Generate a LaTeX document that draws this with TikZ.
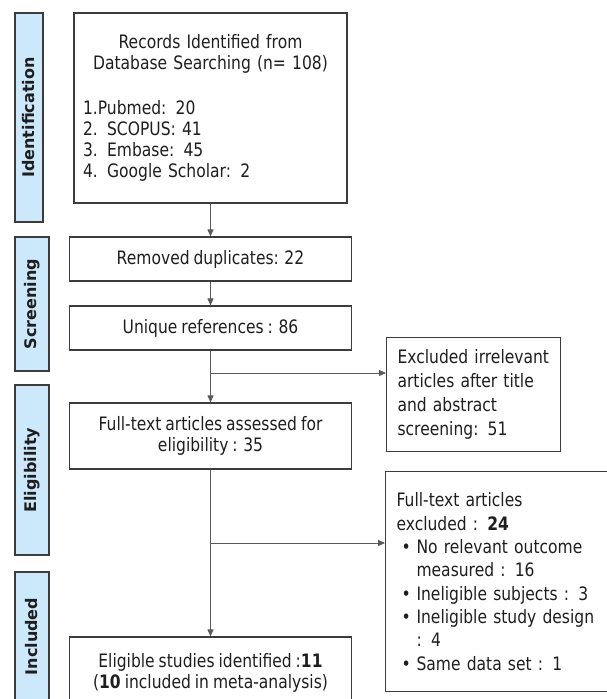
\documentclass[tikz,border=0pt]{standalone}
\usepackage{fontspec}
\setmainfont{DejaVu Sans}[FakeStretch=0.84,WordSpace=0.8]
\newfontfamily\phasefont{DejaVu Sans}
\usepackage{tikz}
\usetikzlibrary{arrows.meta,positioning,calc}

\definecolor{phaseblue}{RGB}{204,233,252}
\definecolor{boxline}{RGB}{60,60,60}
\definecolor{flowline}{RGB}{90,90,90}
\definecolor{inktext}{RGB}{30,30,30}

% bullet item and its continuation line
\newcommand{\pitem}[1]{\hspace*{5pt}\makebox[15pt][l]{\textbullet}#1}
\newcommand{\pcont}[1]{\hspace*{20pt}#1}

\begin{document}
\begin{tikzpicture}[x=1pt,y=-1pt,
    phase/.style={draw=boxline, line width=1.4pt, fill=phaseblue, rotate=90,
        inner sep=0pt, text=inktext, font=\phasefont\fontsize{16}{19}\selectfont\bfseries},
    stage/.style={draw=boxline, line width=1.1pt, inner sep=0pt, align=center,
        text=inktext, font=\fontsize{18.5}{21}\selectfont},
    sidebox/.style={stage, anchor=north west, inner xsep=11pt, align=left},
    flow/.style={draw=flowline, line width=0.8pt, -{Triangle[length=7pt,width=6pt]}}]
    \useasboundingbox (0,0) rectangle (606,699);

    % Phases
    \node [phase, minimum width=209pt, minimum height=28pt] (pid) at (29,117.5) {Identification};
    \node [phase, minimum width=134pt, minimum height=34pt] (pscr) at (32,304) {Screening};
    \node [phase, minimum width=170pt, minimum height=34pt] (pelig) at (32,470) {Eligibility};
    \node [phase, minimum width=129pt, minimum height=34pt] (pinc) at (32,636.5) {Included};

    % Main column
    \node [stage, minimum width=273pt, minimum height=190pt, text width=255pt, align=left] (rec) at (210.5,108)
        {\makebox[255pt]{Records Identified from}\\
         \makebox[255pt]{Database Searching (n= 108)}\\[24pt]
         1.Pubmed: 20\\ 2. SCOPUS: 41\\ 3. Embase: 45\\ 4. Google Scholar: 2};
    \node [stage, minimum width=282pt, minimum height=44pt] (rem) at (210.5,259) {Removed duplicates: 22};
    \node [stage, minimum width=282pt, minimum height=44pt] (uni) at (210.5,328) {Unique references : 86};
    \node [stage, minimum width=282pt, minimum height=66pt] (ful) at (210.5,436)
        {Full-text articles assessed for\\ eligibility : 35};
    \node [stage, minimum width=282pt, minimum height=72pt] (elig) at (210.5,673)
        {Eligible studies identified :\textbf{11}\\ (\textbf{10} included in meta-analysis)};

    % Exclusions
    \node [sidebox, minimum width=174pt, minimum height=114pt, text width=152pt,
        font=\fontsize{18.5}{24}\selectfont] (exc1) at (386,337)
        {Excluded irrelevant\\ articles after title\\ and abstract\\ screening: 51};
    \node [sidebox, minimum width=235pt, minimum height=220pt, text width=213pt,
        font=\fontsize{18.5}{23.3}\selectfont] (exc2) at (385,471)
        {Full-text articles\\ excluded : \textbf{24}\\
         \pitem{No relevant outcome}\\ \pcont{measured : 16}\\
         \pitem{Ineligible subjects : 3}\\
         \pitem{Ineligible study design}\\ \pcont{: 4}\\
         \pitem{Same data set : 1}};

    % Connectors
    \coordinate (b1) at (210.5,373);
    \coordinate (b2) at (210.5,543);
    \draw [flow] (rec) -- (rem);
    \draw [flow] (rem) -- (uni);
    \draw [flow] (uni) -- (ful);
    \draw [flow] (b1) -- (b1 -| exc1.west);
    \draw [flow] (ful) -- (elig);
    \draw [flow] (b2) -- (b2 -| exc2.west);
\end{tikzpicture}
\end{document}
